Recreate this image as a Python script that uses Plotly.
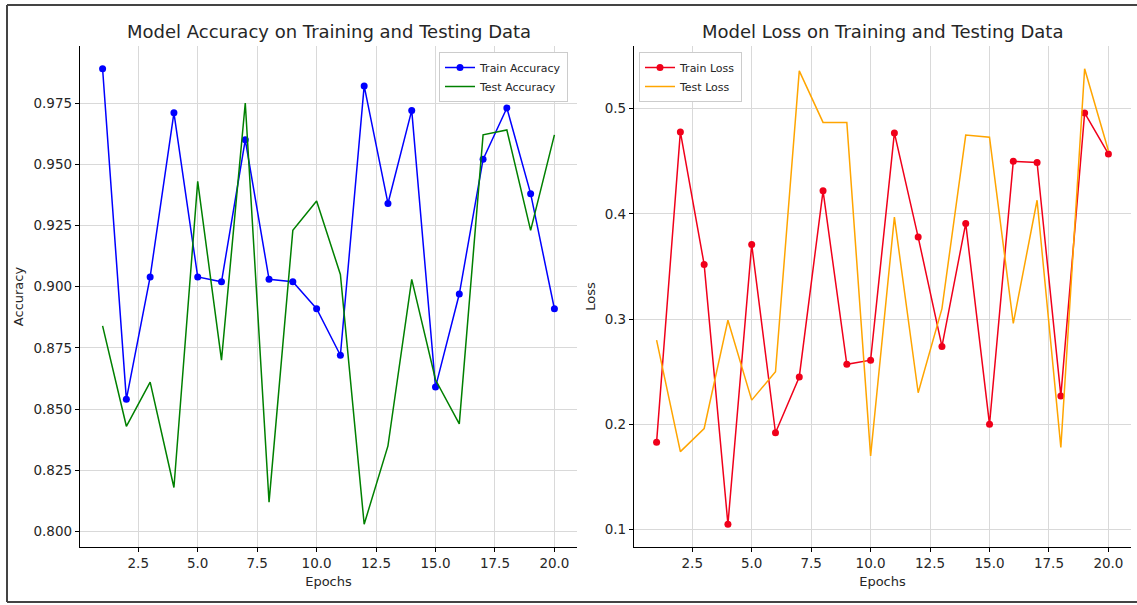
import plotly.graph_objects as go

# ---- data ----
epochs = list(range(1, 21))
train_acc = [0.989, 0.854, 0.904, 0.971, 0.904, 0.902, 0.960, 0.903, 0.902, 0.891,
             0.872, 0.982, 0.934, 0.972, 0.859, 0.897, 0.952, 0.973, 0.938, 0.891]
test_acc = [0.884, 0.843, 0.861, 0.818, 0.943, 0.870, 0.975, 0.812, 0.923, 0.935,
            0.905, 0.803, 0.835, 0.903, 0.862, 0.844, 0.962, 0.964, 0.923, 0.962]
train_loss = [0.183, 0.478, 0.352, 0.105, 0.371, 0.192, 0.245, 0.422, 0.257, 0.261,
              0.477, 0.378, 0.274, 0.391, 0.200, 0.450, 0.449, 0.227, 0.496, 0.457]
test_loss = [0.280, 0.174, 0.196, 0.299, 0.223, 0.250, 0.536, 0.487, 0.487, 0.170,
             0.397, 0.230, 0.310, 0.475, 0.473, 0.296, 0.413, 0.178, 0.538, 0.460]

W, H = 1137, 605
FONT = "DejaVu Sans"
TXT = "#262626"
GRID = "#d9d9d9"


def auto_range(*series, margin=0.05):
    vals = [v for s in series for v in s]
    lo, hi = min(vals), max(vals)
    pad = (hi - lo) * margin
    return [lo - pad, hi + pad]


def px_x(p):
    return p / W


def px_y(p):
    return 1 - p / H


fig = go.Figure()
fig.add_trace(go.Scatter(x=epochs, y=train_acc, mode="lines+markers", name="Train Accuracy",
                         line=dict(color="#0000ff", width=1.5), marker=dict(size=7, color="#0000ff"),
                         xaxis="x", yaxis="y", legend="legend"))
fig.add_trace(go.Scatter(x=epochs, y=test_acc, mode="lines", name="Test Accuracy",
                         line=dict(color="#008000", width=1.5),
                         xaxis="x", yaxis="y", legend="legend"))
fig.add_trace(go.Scatter(x=epochs, y=train_loss, mode="lines+markers", name="Train Loss",
                         line=dict(color="#f0001a", width=1.5), marker=dict(size=7, color="#f0001a"),
                         xaxis="x2", yaxis="y2", legend="legend2"))
fig.add_trace(go.Scatter(x=epochs, y=test_loss, mode="lines", name="Test Loss",
                         line=dict(color="#ffa500", width=1.5),
                         xaxis="x2", yaxis="y2", legend="legend2"))

xr = auto_range(epochs)
yr1 = auto_range(train_acc, test_acc)
yr2 = auto_range(train_loss, test_loss)

common_x = dict(tick0=0, dtick=2.5, tickformat=".1f", showgrid=True, gridcolor=GRID, gridwidth=1,
                showline=True, linecolor="black", linewidth=1.3, mirror=False, zeroline=False,
                ticks="outside", ticklen=4, tickcolor="black", tickwidth=1,
                tickfont=dict(family=FONT, size=13.5, color=TXT),
                title=dict(text="Epochs", font=dict(family=FONT, size=13, color=TXT), standoff=6),
                range=xr)
common_y = dict(showgrid=True, gridcolor=GRID, gridwidth=1,
                showline=True, linecolor="black", linewidth=1.3, mirror=False, zeroline=False,
                ticks="outside", ticklen=4, tickcolor="black", tickwidth=1,
                tickfont=dict(family=FONT, size=13.5, color=TXT))

y_dom = [px_y(547), px_y(46)]
border = dict(color="#444444", width=2)

fig.update_layout(
    width=W, height=H, margin=dict(l=0, r=0, t=0, b=0),
    paper_bgcolor="white", plot_bgcolor="white",
    font=dict(family=FONT, color=TXT),
    xaxis=dict(domain=[px_x(80), px_x(577)], anchor="y", **common_x),
    yaxis=dict(domain=y_dom, anchor="x", range=yr1, tick0=0.8, dtick=0.025, tickformat=".3f",
               title=dict(text="Accuracy", font=dict(family=FONT, size=13, color=TXT), standoff=6),
               **common_y),
    xaxis2=dict(domain=[px_x(634), px_x(1131)], anchor="y2", **common_x),
    yaxis2=dict(domain=y_dom, anchor="x2", range=yr2, tick0=0.1, dtick=0.1, tickformat=".1f",
                title=dict(text="Loss", font=dict(family=FONT, size=13, color=TXT), standoff=6),
                **common_y),
    legend=dict(x=px_x(568), xanchor="right", y=px_y(52), yanchor="top",
                bgcolor="white", bordercolor="#cccccc", borderwidth=1,
                font=dict(family=FONT, size=11, color=TXT), tracegroupgap=0),
    legend2=dict(x=px_x(639), xanchor="left", y=px_y(52), yanchor="top",
                 bgcolor="white", bordercolor="#cccccc", borderwidth=1,
                 font=dict(family=FONT, size=11, color=TXT), tracegroupgap=0),
    showlegend=True,
    annotations=[
        dict(text="Model Accuracy on Training and Testing Data", xref="paper", yref="paper",
             x=px_x((80 + 577) / 2), y=px_y(31), xanchor="center", yanchor="middle",
             showarrow=False, font=dict(family=FONT, size=18, color=TXT)),
        dict(text="Model Loss on Training and Testing Data", xref="paper", yref="paper",
             x=px_x((634 + 1131) / 2), y=px_y(31), xanchor="center", yanchor="middle",
             showarrow=False, font=dict(family=FONT, size=18, color=TXT)),
    ],
    shapes=[
        dict(type="line", xref="paper", yref="paper", x0=px_x(7), x1=1, y0=px_y(5), y1=px_y(5),
             line=border, layer="above"),
        dict(type="line", xref="paper", yref="paper", x0=px_x(7), x1=1, y0=px_y(602), y1=px_y(602),
             line=border, layer="above"),
        dict(type="line", xref="paper", yref="paper", x0=px_x(7), x1=px_x(7), y0=px_y(602), y1=px_y(5),
             line=border, layer="above"),
    ],
)

fig.write_html("out.html", config={"displayModeBar": False},
               post_script="document.body.style.margin='0';document.body.style.overflow='hidden';")
